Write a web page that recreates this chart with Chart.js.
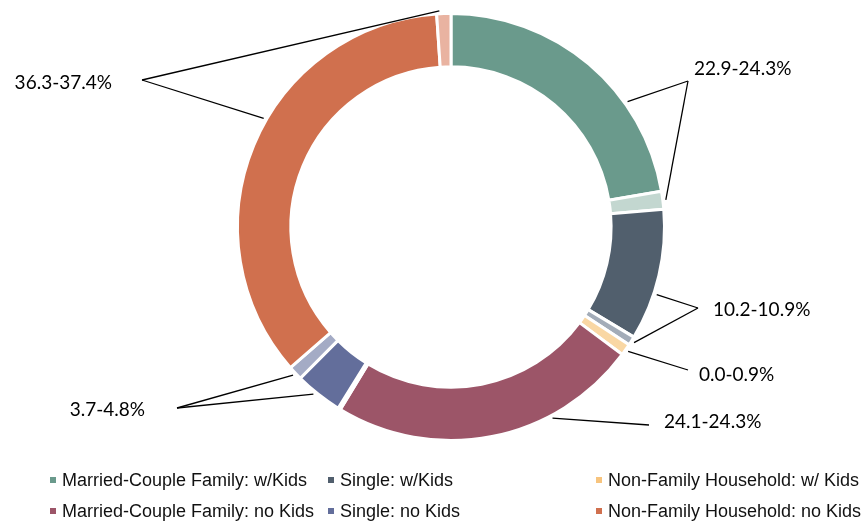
<!DOCTYPE html>
<html>
<head>
<meta charset="utf-8">
<script src="https://cdn.jsdelivr.net/npm/chart.js@4/dist/chart.umd.min.js"></script>
<style>
  html, body { margin: 0; padding: 0; background: #fff; }
  #wrap { position: relative; width: 867px; height: 522px; }
  #wrap canvas { position: absolute; left: 0; top: 0; }
  #legend {
    position: absolute; left: 0; top: 467px; width: 867px;
    font-family: "Liberation Sans", Arial, sans-serif; font-size: 18px; color: #111;
  }
  .item { position: absolute; white-space: nowrap; line-height: 26px; }
  .item i { display: inline-block; width: 6px; height: 6px; margin-right: 6px; vertical-align: 3px; }
</style>
</head>
<body>
<div id="wrap">
  <canvas id="donut"></canvas>
  <div id="legend"></div>
</div>
<script>
"use strict";

/* ── Data ─────────────────────────────────────────────────────────────── */
const categories = [
  "Married-Couple Family: w/Kids",
  "Single: w/Kids",
  "Non-Family Household: w/ Kids",
  "Married-Couple Family: no Kids",
  "Single: no Kids",
  "Non-Family Household: no Kids",
];
const lowShare  = [22.9, 10.2, 0.0, 24.1, 3.7, 36.3];
const highShare = [24.3, 10.9, 0.9, 24.3, 4.8, 37.4];

const mainColors  = ["#6a9a8c", "#515f6d", "#f7c47e", "#9c5568", "#636e9b", "#d0704e"];
const rangeColors = ["#c3d7d0", "#a3acb8", "#f9d7a4", "#d7b2bc", "#a4abc5", "#e9b3a1"];

/* ── Label layout (offsets from doughnut centre) ───────────────────────── */
const labelLayout = [
  { tx: 243,  ty: -158, align: "left",  ax: 237,  ay: -146, mainFrac: 0.68, rangeFrac: 0.5 },
  { tx: 262,  ty: 83,   align: "left",  ax: 247,  ay: 81,   mainFrac: 0.64, rangeFrac: 0.5 },
  { tx: 248,  ty: 148,  align: "left",  ax: 237,  ay: 143,  mainFrac: 0.5,  rangeFrac: 0.5 },
  { tx: 213,  ty: 195,  align: "left",  ax: 198,  ay: 198,  mainFrac: 0.3,  rangeFrac: 0.5 },
  { tx: -306, ty: 183,  align: "right", ax: -274, ay: 181,  mainFrac: 0.58, rangeFrac: 0.5 },
  { tx: -339, ty: -144, align: "right", ax: -309, ay: -147, mainFrac: 0.56, rangeFrac: 0.2 },
];

/* interleave main share + uncertainty band */
const values = [], colors = [];
categories.forEach((c, i) => {
  values.push(lowShare[i], +(highShare[i] - lowShare[i]).toFixed(1));
  colors.push(mainColors[i], rangeColors[i]);
});

/* ── Callout plugin ───────────────────────────────────────────────────── */
const callouts = {
  id: "callouts",
  afterDraw(chart) {
    const ctx = chart.ctx;
    const arcs = chart.getDatasetMeta(0).data;
    const cx = arcs[0].x, cy = arcs[0].y;
    const pointOn = (arc, frac) => {
      const a = arc.startAngle + (arc.endAngle - arc.startAngle) * frac;
      const r = arc.outerRadius + 3;
      return [cx + r * Math.cos(a), cy + r * Math.sin(a)];
    };
    ctx.save();
    ctx.strokeStyle = "#000";
    ctx.lineWidth = 1.3;
    ctx.fillStyle = "#000";
    ctx.font = "19px Lato, 'Open Sans', sans-serif";
    ctx.textBaseline = "middle";
    labelLayout.forEach((L, i) => {
      const ax = cx + L.ax, ay = cy + L.ay;
      const targets = [];
      if (lowShare[i] > 0) targets.push(pointOn(arcs[2 * i], L.mainFrac));
      if (highShare[i] - lowShare[i] >= 0.5) targets.push(pointOn(arcs[2 * i + 1], L.rangeFrac));
      targets.forEach(([x, y]) => {
        ctx.beginPath();
        ctx.moveTo(ax, ay);
        ctx.lineTo(x, y);
        ctx.stroke();
      });
      ctx.textAlign = L.align;
      ctx.fillText(`${lowShare[i].toFixed(1)}-${highShare[i].toFixed(1)}%`, cx + L.tx, cy + L.ty);
    });
    ctx.restore();
  },
};

new Chart(document.getElementById("donut"), {
  type: "doughnut",
  data: {
    labels: categories.flatMap(c => [c, c + " (range)"]),
    datasets: [{
      data: values,
      backgroundColor: colors,
      borderColor: "#fff",
      borderWidth: 3,
      hoverBorderWidth: 3,
      hoverOffset: 0,
    }],
  },
  options: {
    responsive: true, maintainAspectRatio: false,
    animation: false,
    cutout: "75%",
    layout: { padding: { left: 236, right: 201, top: 12, bottom: 80 } },
    plugins: { legend: { display: false }, tooltip: { enabled: false } },
  },
  plugins: [callouts],
});

/* ── HTML legend ──────────────────────────────────────────────────────── */
const legendCols = [50, 328, 596];
const legend = document.getElementById("legend");
categories.forEach((c, i) => {
  const el = document.createElement("div");
  el.className = "item";
  el.style.left = legendCols[i % 3] + "px";
  el.style.top = (i < 3 ? 0 : 31) + "px";
  el.innerHTML = `<i style="background:${mainColors[i]}"></i>${c}`;
  legend.appendChild(el);
});
</script>
</body>
</html>
